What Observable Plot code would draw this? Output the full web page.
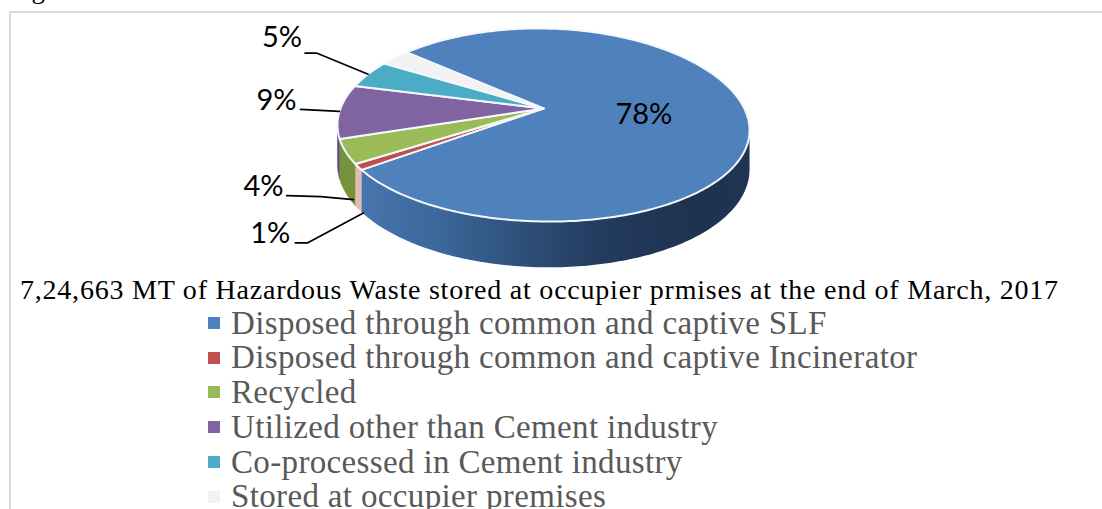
<!DOCTYPE html>
<html><head><meta charset="utf-8">
<script src="https://cdn.jsdelivr.net/npm/d3@7"></script>
<script src="https://cdn.jsdelivr.net/npm/@observablehq/plot@0.6"></script>
<style>
html,body{margin:0;padding:0;background:#fff;width:1102px;height:509px;overflow:hidden;}
#page{position:relative;width:1102px;height:509px;overflow:hidden;}
#frame{position:absolute;left:9px;top:11px;right:-5px;bottom:-5px;border:2px solid #d9d9d9;}
#fig{position:absolute;left:9px;top:-27px;font:27px/32px "Liberation Serif",serif;color:#000;}
#chart{position:absolute;left:0;top:0;}
#chart svg{display:block;background:transparent;}
#caption{position:absolute;left:20px;top:274px;white-space:nowrap;font:28px/32px "Liberation Serif",serif;letter-spacing:.78px;color:#000;}
#legend{position:absolute;left:208px;top:305.5px;}
.it{height:34.8px;display:flex;align-items:center;white-space:nowrap;font:33px/34.8px "Liberation Serif",serif;letter-spacing:.35px;color:#595959;}
.sw{width:12px;height:12px;margin-right:11px;flex:none;}
</style></head>
<body>
<div id="page">
<div id="fig">Figure</div>
<div id="frame"></div>
<div id="chart"></div>
<div id="caption"></div>
<div id="legend"></div>
</div>
<script>
const categories = ["Disposed through common and captive SLF","Disposed through common and captive Incinerator","Recycled","Utilized other than Cement industry","Co-processed in Cement industry","Stored at occupier premises"];
const shares = [78.4, 1.0, 4.1, 9.0, 4.7, 2.8];
const topColors = ["#4f81bd","#c0504d","#9bbb59","#8064a2","#4bacc6","#f2f2f2"];
const wallColors = ["url(#wallBlue)","#e6b8b6","#76933c","#5f497a","#31859c","#d9d9d9"];
const captionText = "7,24,663 MT of Hazardous Waste stored at occupier prmises at the end of March, 2017";

// layout of the tilted pie
const W = 1102, H = 272, cx = 543, cy = 108, sx = 203, sy = 93.7;
const persp = 0.171, shear = 0.055, depth = 0.405, startAngle = -48.6;
const rimAt = (deg, drop = 0) => {
  const a = deg * Math.PI / 180, X = Math.sin(a), Y = -Math.cos(a), f = 1 / (1 - persp * Y);
  return {x: X * f, y: (Y + shear * X * (1 + X) / 2) * f + drop * depth * f};
};
let acc = startAngle;
const slices = shares.map((v, i) => {
  const a0 = acc, a1 = acc + v * 3.6; acc = a1;
  return {i, a0, a1, mid: (a0 + a1) / 2};
});
const arc = (a0, a1, drop = 0) => {
  const n = Math.max(2, Math.ceil(a1 - a0) + 1);
  return d3.range(n).map(k => rimAt(a0 + (a1 - a0) * k / (n - 1), drop));
};
const topPoly = s => [{x: 0, y: 0}, ...arc(s.a0, s.a1), {x: 0, y: 0}];
const visA = 100, visB = 260;
const wallPoly = s => {
  const a0 = Math.max(s.a0, visA), a1 = Math.min(s.a1, visB);
  return a1 > a0 ? [...arc(a0, a1), ...arc(a0, a1, 1).reverse()] : [];
};

// leader lines and label placement: pixel offsets from each slice's rim point
const leaderOffsets = [null, [[5,46],[-51,76],[-63,76]], [[8,48],[-25,45],[-59,44]], [[0,0],[-39,-2]], [[0,0],[-51,-21],[-63,-21]], null];
const labelOffsets = [[-104,-3],[-68,67],[-62,35],[-43,-11],[-66,-36],null];
const toUnit = ([dx, dy], p) => ({x: p.x + dx / sx, y: p.y + dy / sy});
const leaderLines = [], labels = [];
slices.forEach(s => {
  const p = rimAt(s.mid);
  if (leaderOffsets[s.i]) leaderLines.push(leaderOffsets[s.i].map(o => toUnit(o, p)));
  if (labelOffsets[s.i]) labels.push({...toUnit(labelOffsets[s.i], p), text: Math.round(shares[s.i]) + "%", anchor: s.i === 0 ? "middle" : "end"});
});

const defs = () => {
  const d = d3.create("svg:defs");
  const g = d.append("linearGradient").attr("id", "wallBlue").attr("x1", 0).attr("x2", 1).attr("y1", 0).attr("y2", 0);
  [[0,"#4776ae"],[0.22,"#3a6596"],[0.45,"#2c4c75"],[0.62,"#233b5e"],[0.85,"#1e3350"],[1,"#1f3450"]]
    .forEach(([o,c]) => g.append("stop").attr("offset", o).attr("stop-color", c));
  return d.node();
};
const polyMark = (pts, fill, stroke, sw) => Plot.line(pts, {x: "x", y: "y", fill, stroke, strokeWidth: sw, strokeLinejoin: "round"});

const marks = [defs];
slices.filter(s => s.i !== 0).forEach(s => { const p = wallPoly(s); if (p.length) marks.push(polyMark(p, wallColors[s.i], wallColors[s.i], 0.5)); });
marks.push(polyMark(wallPoly(slices[0]), wallColors[0], "none", 0));
slices.forEach(s => marks.push(polyMark(topPoly(s), topColors[s.i], "#f4f7fb", 2)));
leaderLines.forEach(l => marks.push(Plot.line(l, {x: "x", y: "y", stroke: "#000", strokeWidth: 1.7})));
["end","middle"].forEach(anchor => marks.push(Plot.text(labels.filter(d => d.anchor === anchor), {
  x: "x", y: "y", text: "text", textAnchor: anchor, lineAnchor: "middle", fontSize: 29, fontFamily: "Lato", fill: "#000"
})));

const chart = Plot.plot({
  width: W, height: H, margin: 0,
  style: {background: "transparent", overflow: "visible"},
  x: {axis: null, domain: [-cx / sx, (W - cx) / sx], range: [0, W]},
  y: {axis: null, domain: [-cy / sy, (H - cy) / sy], range: [0, H]},
  marks
});
document.getElementById("chart").append(chart);
document.getElementById("caption").textContent = captionText;
const lg = document.getElementById("legend");
categories.forEach((c, i) => {
  const r = document.createElement("div"); r.className = "it";
  const b = document.createElement("span"); b.className = "sw"; b.style.background = topColors[i];
  const t = document.createElement("span"); t.textContent = c;
  r.append(b, t); lg.append(r);
});
</script>
</body></html>
